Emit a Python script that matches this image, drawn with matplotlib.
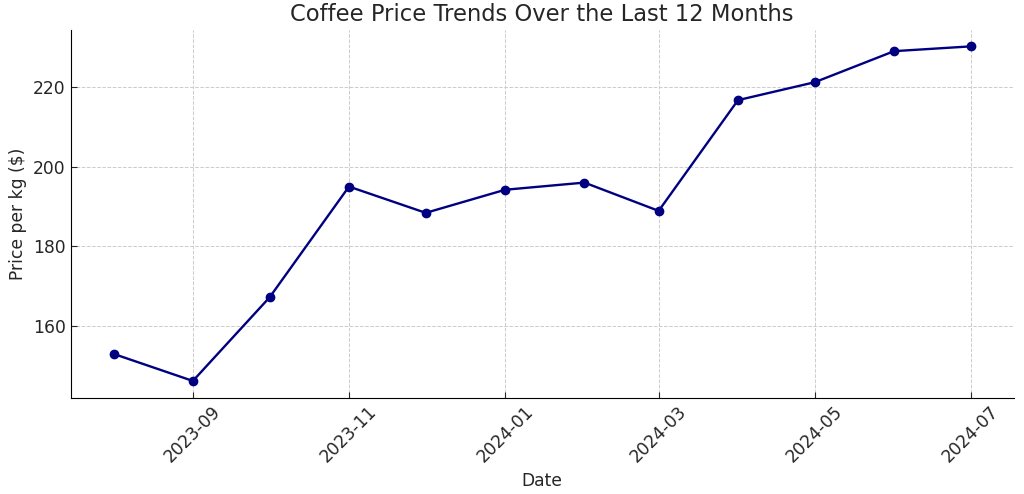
import numpy as np
import pandas as pd
import matplotlib
matplotlib.use('Agg')
import matplotlib.pyplot as plt
import matplotlib.dates as mdates

# monthly coffee price readings
dates = pd.date_range('2023-08-01', periods=12, freq='MS')
prices = [153.0, 146.2, 167.2, 195.0, 188.4, 194.2, 196.0, 188.9, 216.7, 221.2, 229.0, 230.2]

plt.rcParams['text.color'] = '#262626'
plt.rcParams['axes.labelcolor'] = '#262626'
plt.rcParams['xtick.color'] = '#262626'
plt.rcParams['ytick.color'] = '#262626'

fig, ax = plt.subplots(figsize=(10.24, 4.94), dpi=100)
ax.plot(dates, prices, marker='o', color='#000080', linewidth=1.7, markersize=6)

ax.set_title('Coffee Price Trends Over the Last 12 Months', fontsize=16.3)
ax.set_xlabel('Date', fontsize=12.3)
ax.set_ylabel('Price per kg ($)', fontsize=12.3)

ax.xaxis.set_major_locator(mdates.MonthLocator(bymonth=[1, 3, 5, 7, 9, 11]))
ax.xaxis.set_major_formatter(mdates.DateFormatter('%Y-%m'))
ax.set_yticks([160, 180, 200, 220])
ax.tick_params(axis='both', labelsize=12.3, direction='in', length=4)
plt.setp(ax.get_xticklabels(), rotation=45)

ax.grid(True, linestyle='--', color='#cccccc', linewidth=0.7)
ax.spines['top'].set_visible(False)
ax.spines['right'].set_visible(False)

fig.subplots_adjust(left=0.069, right=0.99, top=0.94, bottom=0.195)
fig.savefig('out.png', dpi=100)
